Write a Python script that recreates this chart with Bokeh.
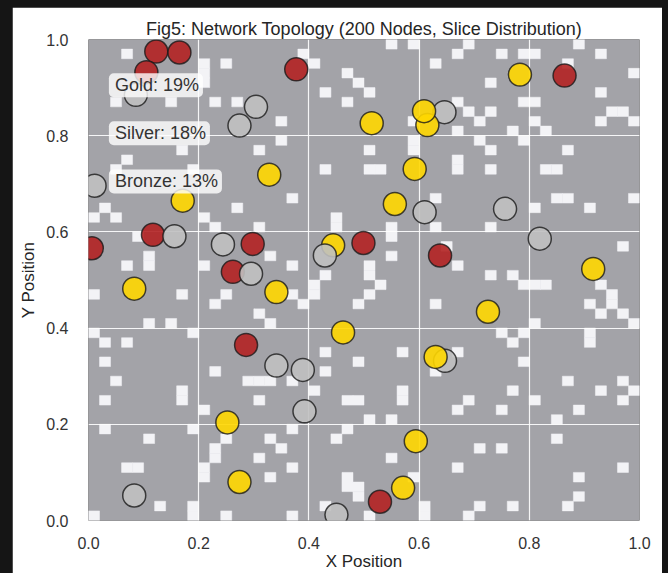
from bokeh.plotting import figure
from bokeh.layouts import column
from bokeh.models import Label, FixedTicker, PrintfTickFormatter, ColumnDataSource
from bokeh.embed import file_html
from bokeh.resources import INLINE

# ---------------- data ----------------
GRID_N = 50  # 50 x 50 occupancy cells over the unit square

# white (free) cells, listed per row, top row first; values are column indices
white_cells_by_row = [
    [27, 29, 34, 44],                      # 0
    [3, 19, 33, 37, 39, 40, 46],           # 1
    [10, 12, 20, 31, 43],                  # 2
    [10, 23, 49],                          # 3
    [10, 24, 36],                          # 4
    [21, 25, 46],                          # 5
    [2, 7, 11, 13, 23, 33, 39, 40],        # 6
    [34, 36, 47, 48],                      # 7
    [17, 29, 35, 40, 46, 49],              # 8
    [33, 38, 41],                          # 9
    [17, 29, 35, 39],                      # 10
    [8, 15, 25, 29, 36, 43],               # 11
    [3, 33],                               # 12
    [2, 9, 21, 25, 26, 33, 36, 41, 42],    # 13
    [],                                    # 14
    [],                                    # 15
    [18, 31, 42, 43, 49],                  # 16
    [1, 13, 40, 45],                       # 17
    [0, 2, 10, 22],                        # 18
    [11, 15, 22, 27, 31, 36],              # 19
    [4, 27],                               # 20
    [32, 48],                              # 21
    [5, 16, 27],                           # 22
    [3, 5, 10, 18, 25, 33],                # 23
    [21, 25, 36, 38],                      # 24
    [20, 26, 39, 40, 41, 46],              # 25
    [0, 8, 12, 18, 20, 25, 47],            # 26
    [11, 19, 24, 31, 45, 47],              # 27
    [15, 46, 48],                          # 28
    [5, 7, 16, 40, 49],                    # 29
    [0, 9, 37, 39, 45],                    # 30
    [1, 3, 38, 45],                        # 31
    [21, 28, 33],                          # 32
    [1, 24, 39],                           # 33
    [11, 21, 31],                          # 34
    [2, 14, 15, 16, 18, 43, 48],           # 35
    [8, 20, 28, 38, 46, 49],               # 36
    [1, 8, 15, 23, 24, 28, 34, 40, 48],    # 37
    [10, 33, 37, 44],                      # 38
    [25, 27, 42],                          # 39
    [1, 9, 18, 23],                        # 40
    [5, 12, 16, 22, 42],                   # 41
    [11, 17, 35, 37],                      # 42
    [11, 15, 27],                          # 43
    [3, 4, 10, 18, 33, 48],                # 44
    [10, 16, 23, 29, 44],                  # 45
    [23, 24],                              # 46
    [24, 44],                              # 47
    [6, 9, 21, 30, 35, 38, 43],            # 48
    [0, 9, 12, 18, 25, 30, 34],            # 49
]

tier_names = ["Gold", "Silver", "Bronze"]
tier_share = [19, 18, 13]
tier_colors = {"Gold": "#FFD700", "Silver": "#C0C0C0", "Bronze": "#B22222"}

# nodes in drawing order
node_x = [0.123, 0.165, 0.105, 0.377, 0.117, 0.006, 0.298, 0.262, 0.499, 0.638, 0.864, 0.286, 0.529,
          0.086, 0.304, 0.274, 0.011, 0.156, 0.244, 0.295, 0.646, 0.610, 0.756, 0.819, 0.341, 0.389,
          0.392, 0.083, 0.647, 0.450,
          0.783, 0.514, 0.615, 0.609, 0.592, 0.556, 0.444, 0.328, 0.171, 0.083, 0.341, 0.725, 0.462,
          0.916, 0.252, 0.274, 0.630, 0.594, 0.571,
          0.429]
node_y = [0.975, 0.973, 0.932, 0.938, 0.594, 0.566, 0.575, 0.517, 0.577, 0.551, 0.925, 0.365, 0.039,
          0.885, 0.860, 0.821, 0.696, 0.591, 0.574, 0.513, 0.849, 0.641, 0.648, 0.586, 0.322, 0.313,
          0.227, 0.052, 0.332, 0.012,
          0.927, 0.826, 0.822, 0.851, 0.731, 0.658, 0.572, 0.719, 0.665, 0.482, 0.475, 0.434, 0.391,
          0.523, 0.204, 0.080, 0.340, 0.165, 0.068,
          0.551]
node_tier = (["Bronze"] * 13) + (["Silver"] * 17) + (["Gold"] * 19) + ["Silver"]

x_ticks = [0.0, 0.2, 0.4, 0.6, 0.8, 1.0]
y_ticks = [0.0, 0.2, 0.4, 0.6, 0.8, 1.0]

# ---------------- figure ----------------
TEXT = "#333333"
FONT = "Liberation Sans"

p = figure(width=650, height=566, x_range=(0, 1), y_range=(0, 1),
           output_backend="svg", toolbar_location=None,
           title="Fig5: Network Topology (200 Nodes, Slice Distribution)",
           min_border_left=76, min_border_right=23, min_border_top=32, min_border_bottom=40)
p.background_fill_color = "#a3a3a8"
p.border_fill_color = "white"
p.outline_line_color = None

p.title.align = "center"
p.title.text_font = FONT
p.title.text_font_size = "18px"
p.title.text_font_style = "normal"
p.title.text_color = "#262626"
p.title.standoff = 1

# occupancy cells
cell = 1.0 / GRID_N
left, right, top, bottom = [], [], [], []
for t, cols in enumerate(white_cells_by_row):
    for c in cols:
        left.append(c * cell)
        right.append((c + 1) * cell)
        top.append(1 - t * cell)
        bottom.append(1 - (t + 1) * cell)
cells_src = ColumnDataSource(dict(left=left, right=right, top=top, bottom=bottom))
p.quad(left="left", right="right", top="top", bottom="bottom", source=cells_src,
       fill_color="#f3f3f6", line_color="#f3f3f6", line_width=0.5, level="image")

# nodes
nodes_src = ColumnDataSource(dict(x=node_x, y=node_y,
                                  color=[tier_colors[t] for t in node_tier]))
p.scatter("x", "y", source=nodes_src, size=23, fill_color="color", fill_alpha=0.9,
          line_color="#1a1a1a", line_alpha=0.8, line_width=1.5)

# tier share labels
for i, (name, share) in enumerate(zip(tier_names, tier_share)):
    p.add_layout(Label(x=0.037, y=0.905 - 0.1 * i, text=f"{name}: {share}%",
                       text_baseline="middle", text_align="left",
                       text_font=FONT, text_font_size="18px", text_color=TEXT,
                       background_fill_color="white", background_fill_alpha=0.8,
                       padding=dict(left=6, right=4, top=2, bottom=2), border_radius=5))

# grid
for g in (p.xgrid, p.ygrid):
    g.grid_line_color = "white"
    g.grid_line_width = 1.2
    g.grid_line_alpha = 0.9
p.xgrid.ticker = FixedTicker(ticks=x_ticks)
p.ygrid.ticker = FixedTicker(ticks=y_ticks)

# axes
for ax, ticks in ((p.xaxis[0], x_ticks), (p.yaxis[0], y_ticks)):
    ax.ticker = FixedTicker(ticks=ticks)
    ax.formatter = PrintfTickFormatter(format="%.1f")
    ax.axis_line_color = None
    ax.major_tick_line_color = None
    ax.minor_tick_line_color = None
    ax.major_label_text_font = FONT
    ax.major_label_text_font_size = "16px"
    ax.major_label_text_color = TEXT
    ax.axis_label_text_font = FONT
    ax.axis_label_text_font_size = "17px"
    ax.axis_label_text_font_style = "normal"
    ax.axis_label_text_color = "#262626"
p.xaxis.axis_label = "X Position"
p.yaxis.axis_label = "Y Position"
p.xaxis.major_label_standoff = 10
p.xaxis.axis_label_standoff = 0
p.yaxis.major_label_standoff = 14
p.yaxis.axis_label_standoff = 5

# dark photo frame around the page
page = column(p, styles={"background-color": "#151515", "padding-left": "12px",
                         "padding-top": "7px", "padding-right": "6px"})

open("out.html", "w").write(file_html(page, INLINE))
